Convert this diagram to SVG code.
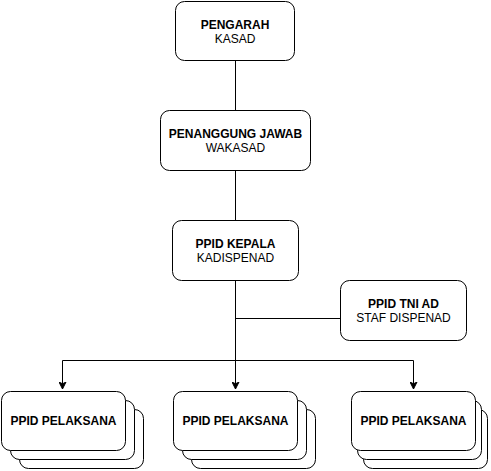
<svg xmlns="http://www.w3.org/2000/svg" width="491" height="471" viewBox="0 0 491 471">
<defs>
<marker id="arr" markerWidth="8" markerHeight="8" refX="7" refY="4" orient="auto" markerUnits="userSpaceOnUse">
<path d="M0,0.5 L7,4 L0,7.5 L1.8,4 Z" fill="#000" stroke="#000" stroke-width="1"/>
</marker>
</defs>
<style>
.box{fill:#fff;stroke:#000;stroke-width:1}
.ln{fill:none;stroke:#000;stroke-width:1}
.t{font-family:"Liberation Sans",Arial,sans-serif;font-size:12px;fill:#000;text-anchor:middle}
.b{font-weight:bold}
</style>
<rect width="491" height="471" fill="#fff"/>
<g id="connectors">
<path class="ln" d="M235.5,60.5 V110.5"/>
<path class="ln" d="M235.5,170.5 V220.5"/>
<path class="ln" d="M235.5,280.5 V389" marker-end="url(#arr)"/>
<path class="ln" d="M235.5,318.5 H340.5"/>
<path class="ln" d="M62.5,360.5 H413.5"/>
<path class="ln" d="M62.5,360.5 V389" marker-end="url(#arr)"/>
<path class="ln" d="M413.5,360.5 V389" marker-end="url(#arr)"/>
</g>
<g id="pengarah">
<rect class="box" x="175.5" y="1.5" width="119" height="59" rx="9"/>
<text class="t b" x="235" y="28.5">PENGARAH</text>
<text class="t" x="235" y="42.5">KASAD</text>
</g>
<g id="penanggung">
<rect class="box" x="160.5" y="110.5" width="150" height="60" rx="9"/>
<text class="t b" x="235.5" y="137.5">PENANGGUNG JAWAB</text>
<text class="t" x="235.5" y="152">WAKASAD</text>
</g>
<g id="kepala">
<rect class="box" x="172.5" y="220.5" width="126" height="60" rx="9"/>
<text class="t b" x="235.5" y="247.5">PPID KEPALA</text>
<text class="t" x="235.5" y="262">KADISPENAD</text>
</g>
<g id="tniad">
<rect class="box" x="340.5" y="280.5" width="126" height="60" rx="9"/>
<text class="t b" x="403.5" y="307.5">PPID TNI AD</text>
<text class="t" x="403.5" y="322">STAF DISPENAD</text>
</g>
<g id="pelaksana1">
<rect class="box" x="19.5" y="409.5" width="124" height="59" rx="9"/>
<rect class="box" x="10.5" y="400.5" width="124" height="59" rx="9"/>
<rect class="box" x="1.5" y="391.5" width="124" height="59" rx="9"/>
<text class="t b" x="63.5" y="425">PPID PELAKSANA</text>
</g>
<g id="pelaksana2">
<rect class="box" x="191.5" y="409.5" width="124" height="59" rx="9"/>
<rect class="box" x="182.5" y="400.5" width="124" height="59" rx="9"/>
<rect class="box" x="173.5" y="391.5" width="124" height="59" rx="9"/>
<text class="t b" x="235.5" y="425">PPID PELAKSANA</text>
</g>
<g id="pelaksana3">
<rect class="box" x="363.5" y="409.5" width="124" height="59" rx="9"/>
<rect class="box" x="357.5" y="400.5" width="124" height="59" rx="9"/>
<rect class="box" x="351.5" y="391.5" width="124" height="59" rx="9"/>
<text class="t b" x="413.5" y="425">PPID PELAKSANA</text>
</g>
</svg>
